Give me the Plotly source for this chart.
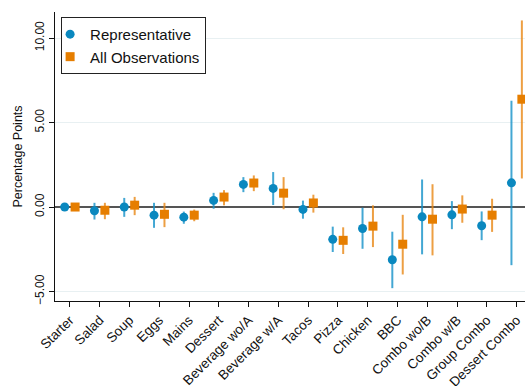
import plotly.graph_objects as go

categories = ["Starter", "Salad", "Soup", "Eggs", "Mains", "Dessert", "Beverage wo/A",
              "Beverage w/A", "Tacos", "Pizza", "Chicken", "BBC", "Combo wo/B",
              "Combo w/B", "Group Combo", "Dessert Combo"]

rep_est = [0.0, -0.22, 0.0, -0.48, -0.60, 0.39, 1.34, 1.10, -0.14, -1.91, -1.27, -3.12,
           -0.58, -0.46, -1.11, 1.43]
rep_hi = [0.05, 0.25, 0.54, 0.25, -0.27, 0.84, 1.77, 2.07, 0.38, -1.16, -0.04, -1.46,
          1.63, 0.35, -0.26, 6.29]
rep_lo = [-0.05, -0.74, -0.58, -1.23, -0.99, -0.10, 0.88, 0.12, -0.69, -2.66, -2.47, -4.80,
          -2.80, -1.31, -1.96, -3.44]

all_est = [0.0, -0.19, 0.11, -0.43, -0.48, 0.59, 1.42, 0.82, 0.24, -1.97, -1.13, -2.20,
           -0.72, -0.12, -0.48, 6.38]
all_hi = [0.05, 0.25, 0.60, 0.25, -0.15, 1.00, 1.87, 1.77, 0.73, -1.20, 0.10, -0.46,
          1.35, 0.69, 0.49, 11.04]
all_lo = [-0.05, -0.72, -0.48, -1.19, -0.84, 0.10, 0.94, -0.13, -0.33, -2.78, -2.37, -3.99,
          -2.86, -0.93, -1.47, 1.69]

y_ticks = [-5, 0, 5, 10]

BLUE = "#0a88bf"
ORANGE = "#e67e00"
FONT = "Liberation Sans, Arial, sans-serif"

idx = list(range(len(categories)))
off = 0.175

fig = go.Figure()
fig.add_trace(go.Scatter(
    x=[i - off for i in idx], y=rep_est, mode="markers", name="Representative",
    marker=dict(symbol="circle", size=9, color=BLUE),
    error_y=dict(type="data", symmetric=False,
                 array=[h - e for h, e in zip(rep_hi, rep_est)],
                 arrayminus=[e - l for e, l in zip(rep_est, rep_lo)],
                 color="rgba(20,145,200,0.8)", thickness=2, width=0),
))
fig.add_trace(go.Scatter(
    x=[i + off for i in idx], y=all_est, mode="markers", name="All Observations",
    marker=dict(symbol="square", size=9, color=ORANGE),
    error_y=dict(type="data", symmetric=False,
                 array=[h - e for h, e in zip(all_hi, all_est)],
                 arrayminus=[e - l for e, l in zip(all_est, all_lo)],
                 color="rgba(232,135,20,0.8)", thickness=2, width=0),
))

fig.update_layout(
    width=525, height=386,
    margin=dict(l=55, r=0, t=12, b=85),
    paper_bgcolor="white", plot_bgcolor="white",
    font=dict(family=FONT, size=13, color="#111"),
    showlegend=True,
    legend=dict(x=0.013, y=0.983, xanchor="left", yanchor="top",
                bordercolor="#222", borderwidth=1, bgcolor="white",
                font=dict(size=15), itemwidth=30, tracegroupgap=0,
                indentation=-12),
    xaxis=dict(range=[-0.5, 15.28], tickmode="array", tickvals=idx, ticktext=categories,
               tickangle=-45, ticks="outside", ticklen=5, tickcolor="#111",
               showline=True, linecolor="#111", linewidth=1, showgrid=False,
               zeroline=False, tickfont=dict(size=13.5), automargin=False),
    yaxis=dict(range=[-5.56, 11.54], tickmode="array", tickvals=y_ticks,
               tickformat=".2f", tickangle=-90, ticks="outside", ticklen=5,
               tickcolor="#111", showline=True, linecolor="#111", linewidth=1,
               showgrid=True, gridcolor="#e8f0f2", gridwidth=1,
               zeroline=True, zerolinecolor="#555", zerolinewidth=1.5,
               title=dict(text="Percentage Points", standoff=7, font=dict(size=12.5)),
               tickfont=dict(size=12), automargin=False),
)

fig.write_html("out.html", config={"displayModeBar": False},
               post_script="document.body.style.margin='0';document.body.style.padding='0';")
